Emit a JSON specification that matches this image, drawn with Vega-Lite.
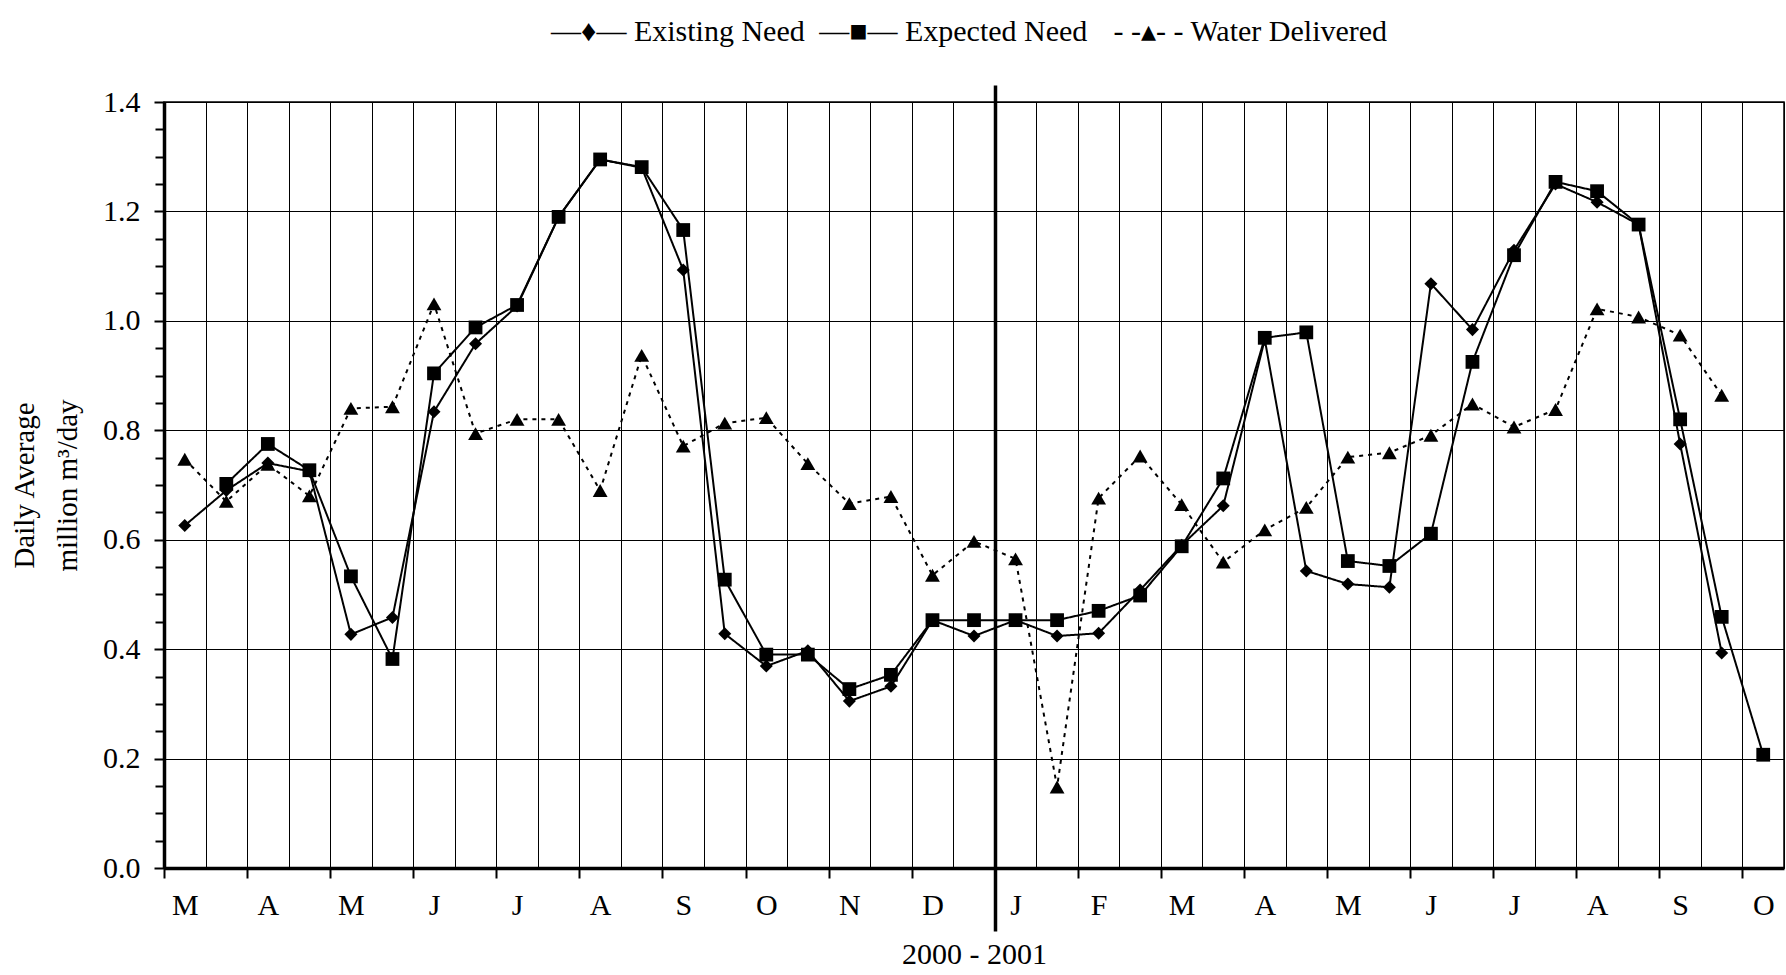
{
  "$schema": "https://vega.github.io/schema/vega-lite/v6.json",
  "width": 1620,
  "height": 766,
  "autosize": {"type": "none"},
  "padding": {"left": 164, "top": 102, "right": 2, "bottom": 107},
  "background": "white",
  "config": {
    "font": "Liberation Serif",
    "view": {"stroke": "#000", "strokeWidth": 1.5},
    "axis": {
      "labelFont": "Liberation Serif",
      "titleFont": "Liberation Serif",
      "labelColor": "#000",
      "titleColor": "#000",
      "titleFontWeight": "normal",
      "domainColor": "#000",
      "tickColor": "#000",
      "gridColor": "#000"
    }
  },
  "resolve": {"axis": {"x": "independent", "y": "independent"}},
  "data": {
    "values": [
      {"idx": 0, "series": "Existing Need", "value": 0.626},
      {"idx": 1, "series": "Existing Need", "value": 0.69},
      {"idx": 2, "series": "Existing Need", "value": 0.74},
      {"idx": 3, "series": "Existing Need", "value": 0.725},
      {"idx": 4, "series": "Existing Need", "value": 0.427},
      {"idx": 5, "series": "Existing Need", "value": 0.458},
      {"idx": 6, "series": "Existing Need", "value": 0.834},
      {"idx": 7, "series": "Existing Need", "value": 0.958},
      {"idx": 8, "series": "Existing Need", "value": 1.027},
      {"idx": 9, "series": "Existing Need", "value": 1.19},
      {"idx": 10, "series": "Existing Need", "value": 1.295},
      {"idx": 11, "series": "Existing Need", "value": 1.28},
      {"idx": 12, "series": "Existing Need", "value": 1.093},
      {"idx": 13, "series": "Existing Need", "value": 0.428},
      {"idx": 14, "series": "Existing Need", "value": 0.369},
      {"idx": 15, "series": "Existing Need", "value": 0.397},
      {"idx": 16, "series": "Existing Need", "value": 0.305},
      {"idx": 17, "series": "Existing Need", "value": 0.332},
      {"idx": 18, "series": "Existing Need", "value": 0.453},
      {"idx": 19, "series": "Existing Need", "value": 0.424},
      {"idx": 20, "series": "Existing Need", "value": 0.453},
      {"idx": 21, "series": "Existing Need", "value": 0.424},
      {"idx": 22, "series": "Existing Need", "value": 0.429},
      {"idx": 23, "series": "Existing Need", "value": 0.508},
      {"idx": 24, "series": "Existing Need", "value": 0.59},
      {"idx": 25, "series": "Existing Need", "value": 0.662},
      {"idx": 26, "series": "Existing Need", "value": 0.966},
      {"idx": 27, "series": "Existing Need", "value": 0.543},
      {"idx": 28, "series": "Existing Need", "value": 0.519},
      {"idx": 29, "series": "Existing Need", "value": 0.513},
      {"idx": 30, "series": "Existing Need", "value": 1.068},
      {"idx": 31, "series": "Existing Need", "value": 0.984},
      {"idx": 32, "series": "Existing Need", "value": 1.129},
      {"idx": 33, "series": "Existing Need", "value": 1.25},
      {"idx": 34, "series": "Existing Need", "value": 1.217},
      {"idx": 35, "series": "Existing Need", "value": 1.176},
      {"idx": 36, "series": "Existing Need", "value": 0.775},
      {"idx": 37, "series": "Existing Need", "value": 0.393},
      {"idx": 1, "series": "Expected Need", "value": 0.702},
      {"idx": 2, "series": "Expected Need", "value": 0.775},
      {"idx": 3, "series": "Expected Need", "value": 0.727},
      {"idx": 4, "series": "Expected Need", "value": 0.533},
      {"idx": 5, "series": "Expected Need", "value": 0.382},
      {"idx": 6, "series": "Expected Need", "value": 0.904},
      {"idx": 7, "series": "Expected Need", "value": 0.988},
      {"idx": 8, "series": "Expected Need", "value": 1.029},
      {"idx": 9, "series": "Expected Need", "value": 1.19},
      {"idx": 10, "series": "Expected Need", "value": 1.295},
      {"idx": 11, "series": "Expected Need", "value": 1.281},
      {"idx": 12, "series": "Expected Need", "value": 1.166},
      {"idx": 13, "series": "Expected Need", "value": 0.527},
      {"idx": 14, "series": "Expected Need", "value": 0.39},
      {"idx": 15, "series": "Expected Need", "value": 0.39},
      {"idx": 16, "series": "Expected Need", "value": 0.327},
      {"idx": 17, "series": "Expected Need", "value": 0.353},
      {"idx": 18, "series": "Expected Need", "value": 0.453},
      {"idx": 19, "series": "Expected Need", "value": 0.453},
      {"idx": 20, "series": "Expected Need", "value": 0.453},
      {"idx": 21, "series": "Expected Need", "value": 0.453},
      {"idx": 22, "series": "Expected Need", "value": 0.47},
      {"idx": 23, "series": "Expected Need", "value": 0.498},
      {"idx": 24, "series": "Expected Need", "value": 0.588},
      {"idx": 25, "series": "Expected Need", "value": 0.712},
      {"idx": 26, "series": "Expected Need", "value": 0.969},
      {"idx": 27, "series": "Expected Need", "value": 0.979},
      {"idx": 28, "series": "Expected Need", "value": 0.561},
      {"idx": 29, "series": "Expected Need", "value": 0.552},
      {"idx": 30, "series": "Expected Need", "value": 0.611},
      {"idx": 31, "series": "Expected Need", "value": 0.925},
      {"idx": 32, "series": "Expected Need", "value": 1.12},
      {"idx": 33, "series": "Expected Need", "value": 1.254},
      {"idx": 34, "series": "Expected Need", "value": 1.237},
      {"idx": 35, "series": "Expected Need", "value": 1.176},
      {"idx": 36, "series": "Expected Need", "value": 0.82},
      {"idx": 37, "series": "Expected Need", "value": 0.459},
      {"idx": 38, "series": "Expected Need", "value": 0.207},
      {"idx": 0, "series": "Water Delivered", "value": 0.747},
      {"idx": 1, "series": "Water Delivered", "value": 0.67},
      {"idx": 2, "series": "Water Delivered", "value": 0.738},
      {"idx": 3, "series": "Water Delivered", "value": 0.68},
      {"idx": 4, "series": "Water Delivered", "value": 0.84},
      {"idx": 5, "series": "Water Delivered", "value": 0.843},
      {"idx": 6, "series": "Water Delivered", "value": 1.031},
      {"idx": 7, "series": "Water Delivered", "value": 0.794},
      {"idx": 8, "series": "Water Delivered", "value": 0.82},
      {"idx": 9, "series": "Water Delivered", "value": 0.82},
      {"idx": 10, "series": "Water Delivered", "value": 0.69},
      {"idx": 11, "series": "Water Delivered", "value": 0.937},
      {"idx": 12, "series": "Water Delivered", "value": 0.771},
      {"idx": 13, "series": "Water Delivered", "value": 0.813},
      {"idx": 14, "series": "Water Delivered", "value": 0.823},
      {"idx": 15, "series": "Water Delivered", "value": 0.739},
      {"idx": 16, "series": "Water Delivered", "value": 0.666},
      {"idx": 17, "series": "Water Delivered", "value": 0.679},
      {"idx": 18, "series": "Water Delivered", "value": 0.535},
      {"idx": 19, "series": "Water Delivered", "value": 0.597},
      {"idx": 20, "series": "Water Delivered", "value": 0.565},
      {"idx": 21, "series": "Water Delivered", "value": 0.148},
      {"idx": 22, "series": "Water Delivered", "value": 0.676},
      {"idx": 23, "series": "Water Delivered", "value": 0.753},
      {"idx": 24, "series": "Water Delivered", "value": 0.664},
      {"idx": 25, "series": "Water Delivered", "value": 0.559},
      {"idx": 26, "series": "Water Delivered", "value": 0.618},
      {"idx": 27, "series": "Water Delivered", "value": 0.659},
      {"idx": 28, "series": "Water Delivered", "value": 0.751},
      {"idx": 29, "series": "Water Delivered", "value": 0.759},
      {"idx": 30, "series": "Water Delivered", "value": 0.791},
      {"idx": 31, "series": "Water Delivered", "value": 0.848},
      {"idx": 32, "series": "Water Delivered", "value": 0.806},
      {"idx": 33, "series": "Water Delivered", "value": 0.838},
      {"idx": 34, "series": "Water Delivered", "value": 1.022},
      {"idx": 35, "series": "Water Delivered", "value": 1.007},
      {"idx": 36, "series": "Water Delivered", "value": 0.974},
      {"idx": 37, "series": "Water Delivered", "value": 0.864}
    ]
  },
  "encoding": {
    "x": {"field": "idx", "type": "quantitative", "scale": {"domain": [-0.5, 38.5], "nice": false, "zero": false}, "axis": null},
    "y": {"field": "value", "type": "quantitative", "scale": {"domain": [0, 1.4], "nice": false, "zero": false}, "axis": null}
  },
  "layer": [
    {
      "mark": {"type": "line", "color": "#000", "strokeWidth": 2},
      "encoding": {
        "x": {
          "field": "idx",
          "type": "quantitative",
          "scale": {"domain": [-0.5, 38.5], "nice": false, "zero": false},
          "axis": {
            "orient": "bottom",
            "title": null,
            "values": [-0.5,0.5,1.5,2.5,3.5,4.5,5.5,6.5,7.5,8.5,9.5,10.5,11.5,12.5,13.5,14.5,15.5,16.5,17.5,18.5,19.5,20.5,21.5,22.5,23.5,24.5,25.5,26.5,27.5,28.5,29.5,30.5,31.5,32.5,33.5,34.5,35.5,36.5,37.5,38.5],
            "labels": false,
            "ticks": false,
            "grid": true,
            "gridWidth": 1,
            "domain": true,
            "domainWidth": 3.5
          }
        },
        "y": {
          "field": "value",
          "type": "quantitative",
          "scale": {"domain": [0, 1.4], "nice": false, "zero": false},
          "axis": {
            "orient": "left",
            "title": ["Daily Average", "million m³/day"],
            "titleFontSize": 29,
            "titleLineHeight": 43,
            "titlePadding": 20,
            "labelFontSize": 30,
            "labelPadding": 14,
            "values": [0, 0.2, 0.4, 0.6, 0.8, 1, 1.2, 1.4],
            "format": ".1f",
            "labelOverlap": false,
            "labelFlush": false,
            "grid": true,
            "gridWidth": 1,
            "ticks": true,
            "tickWidth": 2,
            "tickSize": 10,
            "domain": true,
            "domainWidth": 3.5
          }
        },
        "detail": {"field": "series", "type": "nominal"},
        "strokeDash": {
          "field": "series",
          "type": "nominal",
          "scale": {"domain": ["Existing Need", "Expected Need", "Water Delivered"], "range": [[1, 0], [1, 0], [4, 5]]},
          "legend": null
        }
      }
    },
    {
      "transform": [{"filter": "datum.series == 'Existing Need'"}],
      "mark": {"type": "point", "shape": "diamond", "filled": true, "color": "#000", "size": 170, "opacity": 1},
      "encoding": {
        "x": {
          "field": "idx",
          "type": "quantitative",
          "axis": {
            "orient": "top",
            "title": null,
            "values": [19.5],
            "labels": false,
            "domain": false,
            "grid": true,
            "gridWidth": 3.5,
            "ticks": true,
            "tickSize": 17,
            "tickWidth": 3.5
          }
        }
      }
    },
    {
      "transform": [{"filter": "datum.series == 'Expected Need'"}],
      "mark": {"type": "point", "shape": "square", "filled": true, "color": "#000", "size": 190, "opacity": 1},
      "encoding": {
        "x": {
          "field": "idx",
          "type": "quantitative",
          "axis": {
            "orient": "bottom",
            "title": null,
            "values": [19.5],
            "labels": false,
            "domain": false,
            "grid": false,
            "ticks": true,
            "tickSize": 63,
            "tickWidth": 3.5
          }
        }
      }
    },
    {
      "transform": [{"filter": "datum.series == 'Water Delivered'"}],
      "mark": {"type": "point", "shape": "triangle-up", "filled": true, "color": "#000", "size": 220, "opacity": 1},
      "encoding": {
        "x": {
          "field": "idx",
          "type": "quantitative",
          "axis": {
            "orient": "bottom",
            "title": null,
            "values": [-0.5,1.5,3.5,5.5,7.5,9.5,11.5,13.5,15.5,17.5,19.5,21.5,23.5,25.5,27.5,29.5,31.5,33.5,35.5,37.5],
            "labels": false,
            "grid": false,
            "domain": false,
            "ticks": true,
            "tickSize": 10,
            "tickWidth": 2
          }
        },
        "y": {
          "field": "value",
          "type": "quantitative",
          "axis": {
            "orient": "left",
            "title": null,
            "labels": false,
            "domain": false,
            "grid": false,
            "ticks": true,
            "tickSize": 9,
            "tickWidth": 2,
            "values": [0.05,0.1,0.15,0.25,0.3,0.35,0.45,0.5,0.55,0.65,0.7,0.75,0.85,0.9,0.95,1.05,1.1,1.15,1.25,1.3,1.35]
          }
        }
      }
    },
    {
      "transform": [{"filter": "false"}],
      "mark": {"type": "point", "color": "#000", "opacity": 1},
      "encoding": {
        "x": {
          "field": "idx",
          "type": "quantitative",
          "axis": {
            "orient": "bottom",
            "title": "2000 - 2001",
            "titleFontSize": 30,
            "titlePadding": 19,
            "values": [0,2,4,6,8,10,12,14,16,18,20,22,24,26,28,30,32,34,36,38],
            "labelExpr": "substring('MAMJJASONDJFMAMJJASO', datum.value / 2, datum.value / 2 + 1)",
            "labelFontSize": 30,
            "labelPadding": 22,
            "labelOverlap": false,
            "labelFlush": false,
            "labelBound": false,
            "ticks": false,
            "tickSize": 0,
            "grid": false,
            "domain": false
          }
        }
      }
    },
    {
      "transform": [{"filter": "false"}],
      "mark": {"type": "point", "color": "#000", "opacity": 1},
      "encoding": {
        "x": {
          "field": "idx",
          "type": "quantitative",
          "axis": {
            "orient": "top",
            "title": null,
            "values": [11.86, 18.49, 25.64],
            "labelExpr": "datum.value < 15 ? '—♦— Existing Need' : (datum.value < 22 ? '—■— Expected Need' : '- -▴- - Water Delivered')",
            "labelFontSize": 30,
            "labelFont": "Liberation Serif",
            "labelBaseline": "alphabetic",
            "labelPadding": 62,
            "labelLimit": 600,
            "labelOverlap": false,
            "labelFlush": false,
            "labelBound": false,
            "ticks": false,
            "tickSize": 0,
            "grid": false,
            "domain": false
          }
        }
      }
    }
  ]
}
